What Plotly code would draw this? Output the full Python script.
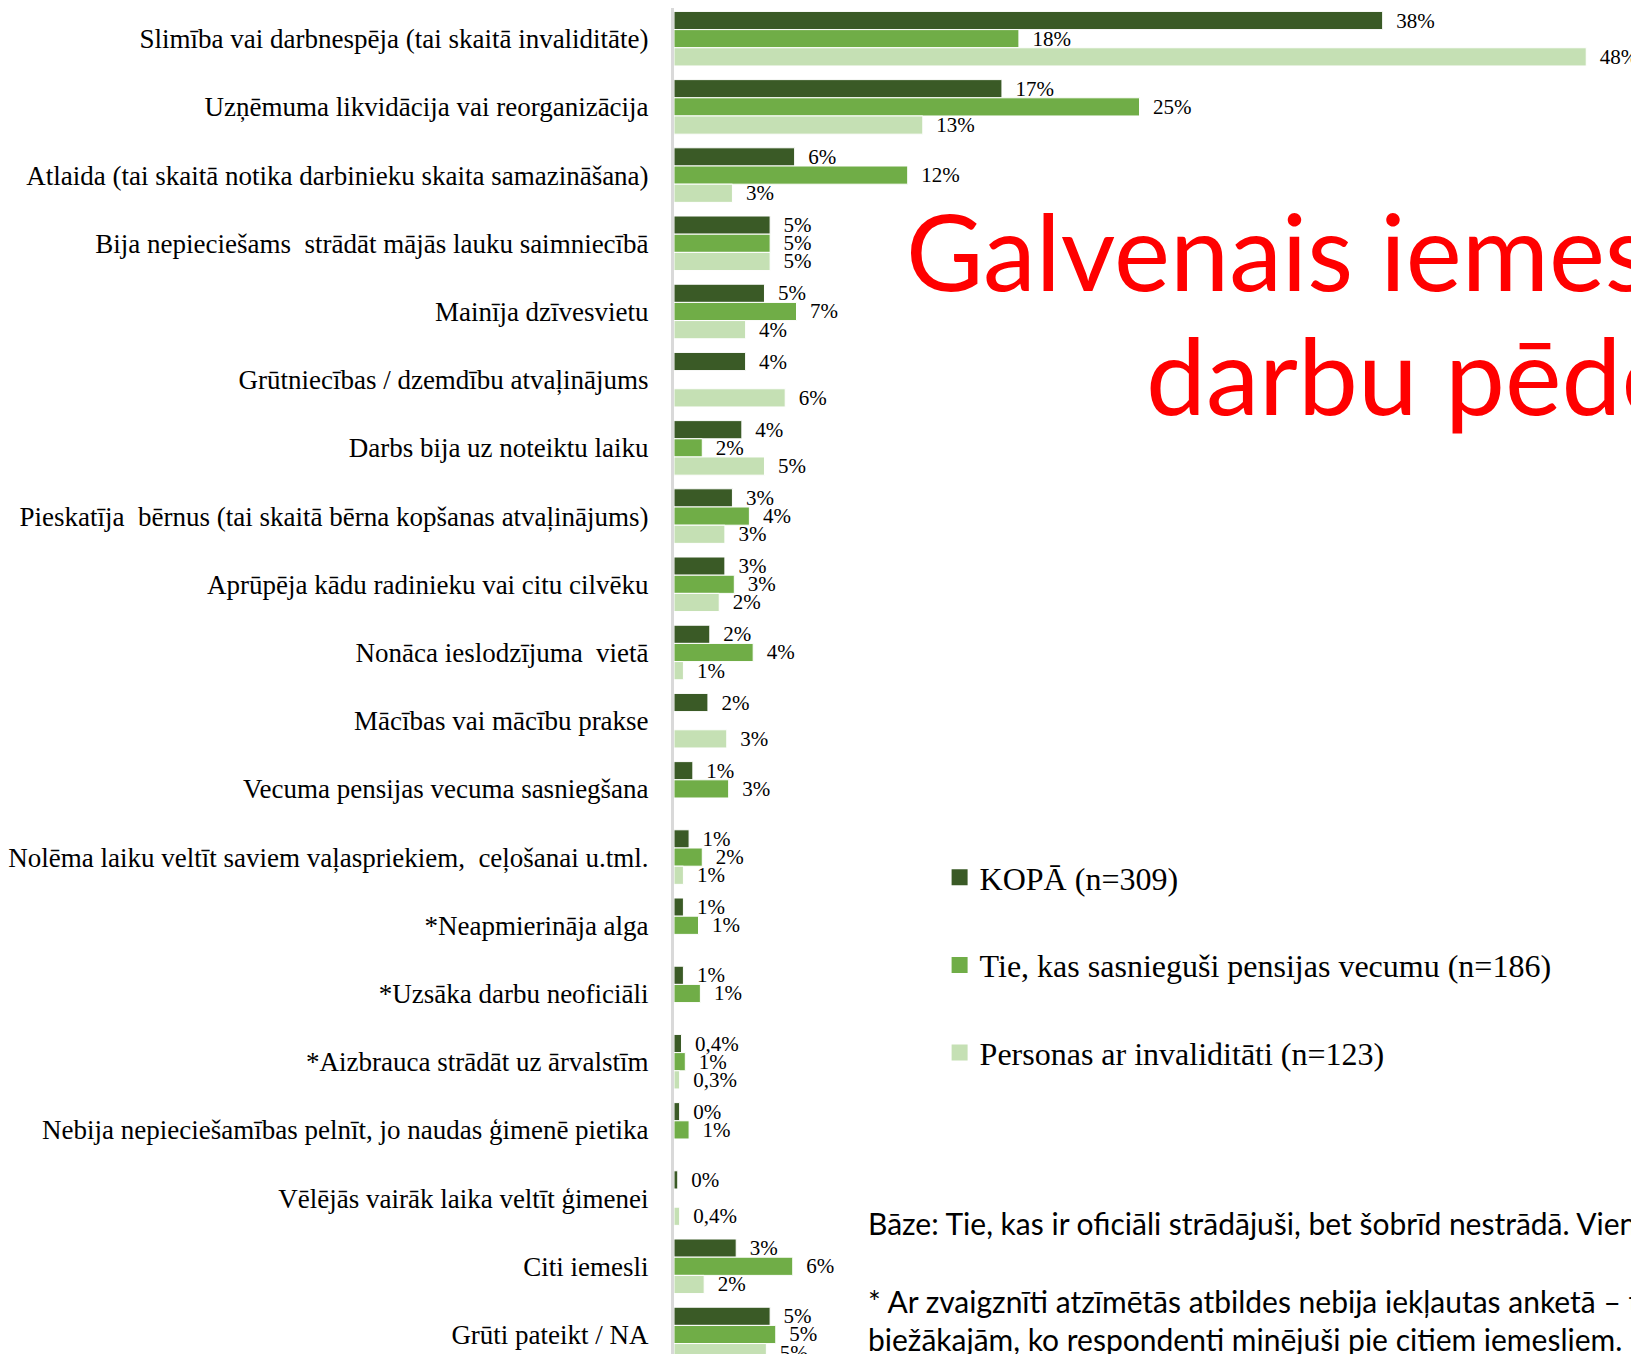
import plotly.graph_objects as go

categories = [
    "Slimība vai darbnespēja (tai skaitā invaliditāte)",
    "Uzņēmuma likvidācija vai reorganizācija",
    "Atlaida (tai skaitā notika darbinieku skaita samazināšana)",
    "Bija nepieciešams  strādāt mājās lauku saimniecībā",
    "Mainīja dzīvesvietu",
    "Grūtniecības / dzemdību atvaļinājums",
    "Darbs bija uz noteiktu laiku",
    "Pieskatīja  bērnus (tai skaitā bērna kopšanas atvaļinājums)",
    "Aprūpēja kādu radinieku vai citu cilvēku",
    "Nonāca ieslodzījuma  vietā",
    "Mācības vai mācību prakse",
    "Vecuma pensijas vecuma sasniegšana",
    "Nolēma laiku veltīt saviem vaļaspriekiem,  ceļošanai u.tml.",
    "*Neapmierināja alga",
    "*Uzsāka darbu neoficiāli",
    "*Aizbrauca strādāt uz ārvalstīm",
    "Nebija nepieciešamības pelnīt, jo naudas ģimenē pietika",
    "Vēlējās vairāk laika veltīt ģimenei",
    "Citi iemesli",
    "Grūti pateikt / NA",
]

series_names = [
    "KOPĀ (n=309)",
    "Tie, kas sasnieguši pensijas vecumu (n=186)",
    "Personas ar invaliditāti (n=123)",
]

kopa_values = [37.6, 17.4, 6.4, 5.1, 4.8, 3.8, 3.6, 3.1, 2.7, 1.9, 1.8, 1.0, 0.8, 0.5, 0.5, 0.4, 0.3, 0.2, 3.3, 5.1]
pension_values = [18.3, 24.7, 12.4, 5.1, 6.5, None, 1.5, 4.0, 3.2, 4.2, None, 2.9, 1.5, 1.3, 1.4, 0.6, 0.8, None, 6.3, 5.4]
invalid_values = [48.4, 13.2, 3.1, 5.1, 3.8, 5.9, 4.8, 2.7, 2.4, 0.5, 2.8, None, 0.5, None, None, 0.3, None, 0.3, 1.6, 4.9]

kopa_labels = ["38%", "17%", "6%", "5%", "5%", "4%", "4%", "3%", "3%", "2%", "2%", "1%", "1%", "1%", "1%", "0,4%", "0%", "0%", "3%", "5%"]
pension_labels = ["18%", "25%", "12%", "5%", "7%", "", "2%", "4%", "3%", "4%", "", "3%", "2%", "1%", "1%", "1%", "1%", "", "6%", "5%"]
invalid_labels = ["48%", "13%", "3%", "5%", "4%", "6%", "5%", "3%", "2%", "1%", "3%", "", "1%", "", "", "0,3%", "", "0,4%", "2%", "5%"]

colors = ["#3a5a26", "#70ad47", "#c5e0b4"]

title_line1 = "Galvenais iemesls"
title_line2 = "darbu pēdējā"
note_base = "Bāze: Tie, kas ir oficiāli strādājuši, bet šobrīd nestrādā. Viena atbilde."
note_star1 = "* Ar zvaigznīti atzīmētās atbildes nebija iekļautas anketā – tās"
note_star2 = "biežākajām, ko respondenti minējuši pie citiem iemesliem."

W, H = 1631, 1346
ML = 666
PW = W - ML


def fx(px):
    return (px - ML) / PW


def fy(py):
    return 1 - py / H


positions = list(range(len(categories)))
pad = "\u00a0\u00a0"

fig = go.Figure()
for name, vals, labs, col in zip(series_names,
                                 [kopa_values, pension_values, invalid_values],
                                 [kopa_labels, pension_labels, invalid_labels],
                                 colors):
    fig.add_trace(go.Bar(
        y=positions, x=vals, orientation="h", name=name,
        marker=dict(color=col, line=dict(color="white", width=1)),
        text=[pad + t if t else "" for t in labs],
        textposition="outside", constraintext="none", cliponaxis=False,
        textfont=dict(family="Liberation Serif", size=21, color="black"),
        showlegend=False, hoverinfo="skip",
    ))

for i, (name, col) in enumerate(zip(series_names, colors)):
    fig.add_trace(go.Scatter(
        x=[None], y=[None], mode="markers", name=name,
        marker=dict(symbol="square", size=16, color=col),
        legendgroup=f"g{i}", showlegend=True,
    ))

fig.update_layout(
    width=W, height=H,
    margin=dict(l=ML, r=0, t=0, b=0),
    paper_bgcolor="white", plot_bgcolor="white",
    font=dict(family="Liberation Serif", color="black"),
    barmode="group", bargap=0.2, bargroupgap=0,
    xaxis=dict(range=[0, 51.2], visible=False, fixedrange=True),
    yaxis=dict(
        tickmode="array", tickvals=positions, ticktext=categories,
        range=[19.286, -0.450], showline=True, linecolor="#d9d9d9", linewidth=3,
        ticks="", ticklabelstandoff=17, showgrid=False, zeroline=False,
        automargin=False,
        tickfont=dict(family="Liberation Serif", size=27, color="black"),
    ),
    legend=dict(
        x=fx(931.6), y=fy(842), xanchor="left", yanchor="top",
        font=dict(family="Liberation Serif", size=32, color="black"),
        tracegroupgap=43, bgcolor="rgba(0,0,0,0)",
    ),
)

fig.add_annotation(text=title_line1, xref="paper", yref="paper", x=fx(896), y=fy(242),
                   xanchor="left", yanchor="middle", showarrow=False,
                   font=dict(family="Lato", size=106, color="#ff0000"))
fig.add_annotation(text=title_line2, xref="paper", yref="paper", x=fx(1136), y=fy(366),
                   xanchor="left", yanchor="middle", showarrow=False,
                   font=dict(family="Lato", size=107, color="#ff0000"))
fig.add_annotation(text=note_base, xref="paper", yref="paper", x=fx(858), y=fy(1215),
                   xanchor="left", yanchor="middle", showarrow=False,
                   font=dict(family="Lato", size=30, color="black"))
fig.add_annotation(text=note_star1, xref="paper", yref="paper", x=fx(858), y=fy(1293),
                   xanchor="left", yanchor="middle", showarrow=False,
                   font=dict(family="Lato", size=30, color="black"))
fig.add_annotation(text=note_star2, xref="paper", yref="paper", x=fx(858), y=fy(1331),
                   xanchor="left", yanchor="middle", showarrow=False,
                   font=dict(family="Lato", size=30, color="black"))

fig.write_html("out.html")
